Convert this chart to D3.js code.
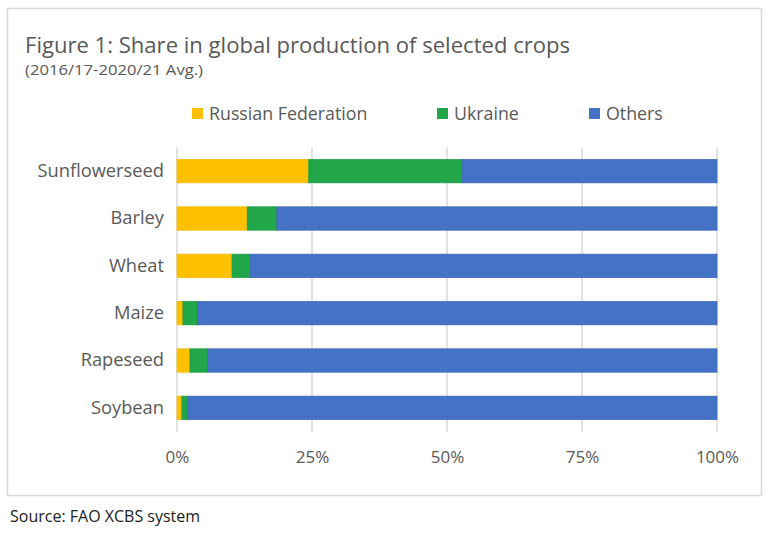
<!DOCTYPE html>
<html><head><meta charset="utf-8">
<script src="https://cdn.jsdelivr.net/npm/d3@7"></script>
<style>body{margin:0;background:#fff;} svg{display:block;font-family:"Open Sans",sans-serif;}</style>
</head><body>
<svg id="c" width="770" height="533"></svg>
<script>
const categories = ["Sunflowerseed","Barley","Wheat","Maize","Rapeseed","Soybean"];
const russia  = [24.4, 13.0, 10.2, 1.1, 2.4, 0.9];
const ukraine = [28.4, 5.5, 3.4, 2.7, 3.3, 1.1];
const others  = categories.map((c,i)=> +(100 - russia[i] - ukraine[i]).toFixed(1));
const seriesNames = ["Russian Federation","Ukraine","Others"];
const seriesColors = ["#FFC000","#21A74A","#4472C4"];
const seriesStroke = ["#F5B800","#1C9A42","#3A66B5"];
const tickValues = [0,25,50,75,100];

const svg = d3.select("#c");
const txt = "#595959";
// frame
svg.append("rect").attr("x",7.5).attr("y",8.5).attr("width",754).attr("height",487)
  .attr("fill","none").attr("stroke","#d9d9d9").attr("stroke-width",1.5);

svg.append("text").attr("x",25).attr("y",53).attr("fill",txt).attr("font-size",22)
  .attr("textLength",545).attr("lengthAdjust","spacingAndGlyphs")
  .text("Figure 1: Share in global production of selected crops");
svg.append("text").attr("x",25).attr("y",75).attr("fill",txt).attr("font-size",14.5)
  .attr("textLength",178).attr("lengthAdjust","spacingAndGlyphs")
  .text("(2016/17-2020/21 Avg.)");

const x = d3.scaleLinear().domain([0,100]).range([177,717]);
const y = d3.scaleBand().domain(categories).range([147.5,431.5]).paddingInner(0.507).paddingOuter(0.2535);

// grid
svg.append("g").selectAll("line").data(tickValues).join("line")
  .attr("x1",d=>x(d)).attr("x2",d=>x(d)).attr("y1",147.5).attr("y2",431.5)
  .attr("stroke","#d9d9d9").attr("stroke-width",1.5);

// bars
const rows = categories.map((c,i)=>({cat:c, vals:[russia[i],ukraine[i],others[i]]}));
const stackData = rows.map(r=>{let acc=0; return r.vals.map((v,k)=>{const o={cat:r.cat,k,x0:acc,x1:acc+v}; acc+=v; return o;});}).flat();
svg.append("g").selectAll("rect").data(stackData).join("rect")
  .attr("x",d=>x(d.x0)).attr("width",d=>x(d.x1)-x(d.x0))
  .attr("y",d=>y(d.cat)).attr("height",y.bandwidth())
  .attr("fill",d=>seriesColors[d.k]).attr("stroke",d=>seriesStroke[d.k]).attr("stroke-width",0.75);

// y labels
const yAxis = d3.axisLeft(y).tickSize(0).tickPadding(13);
const ga = svg.append("g").attr("transform","translate(177,0)").call(yAxis);
ga.select(".domain").remove();
ga.selectAll("text").attr("fill",txt).attr("font-size",18.3).attr("font-family","Open Sans, sans-serif");

// x labels
const xAxis = d3.axisBottom(x).tickValues(tickValues).tickSize(0).tickPadding(0).tickFormat(d=>d+"%");
const gx = svg.append("g").attr("transform","translate(0,451)").call(xAxis);
gx.select(".domain").remove();
gx.selectAll("text").attr("fill",txt).attr("font-size",17).attr("font-family","Open Sans, sans-serif");

// legend
const legX = [192,437,589];
const lg = svg.append("g").selectAll("g").data(seriesNames).join("g")
  .attr("transform",(d,i)=>`translate(${legX[i]},108)`);
lg.append("rect").attr("width",11).attr("height",11).attr("fill",(d,i)=>seriesColors[i]);
lg.append("text").attr("x",17).attr("y",12).attr("fill",txt).attr("font-size",17.8).text(d=>d);

svg.append("text").attr("x",10).attr("y",522).attr("fill","#222").attr("font-size",16).text("Source: FAO XCBS system");
</script>
</body></html>
